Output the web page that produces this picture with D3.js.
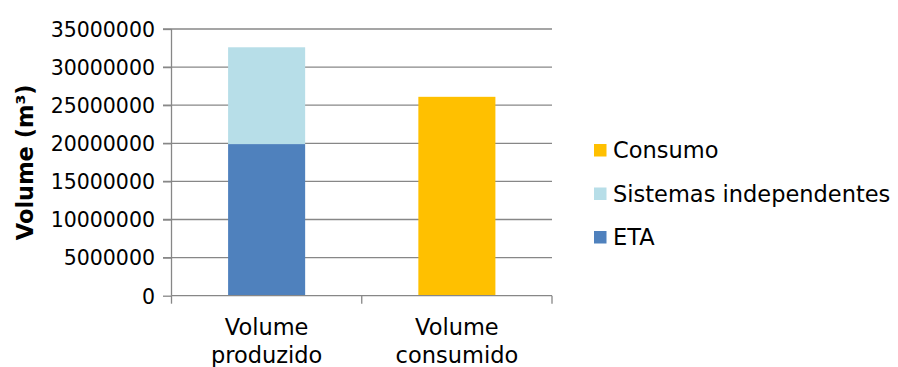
<!DOCTYPE html>
<html><head><meta charset="utf-8">
<script src="https://cdn.jsdelivr.net/npm/d3@7"></script>
<style>
body{margin:0;background:#fff;}
text{font-family:"DejaVu Sans",sans-serif;fill:#000;}
</style></head>
<body><svg id="c" width="898" height="367"></svg>
<script>
const categories = [["Volume","produzido"],["Volume","consumido"]];
const seriesNames = ["ETA","Sistemas independentes","Consumo"];
const etaValues = [19900000, 0];
const sistemasValues = [12700000, 0];
const consumoValues = [0, 26100000];
const yTicks = [0,5000000,10000000,15000000,20000000,25000000,30000000,35000000];
const colors = ["#4F81BD","#B7DEE8","#FFC000"];

const FONT = '"DejaVu Sans",sans-serif';
const svg = d3.select("#c");
const pL = 171.5, pR = 552, pT = 29, pB = 295.7;
const catKeys = categories.map(c=>c.join(" "));
const x = d3.scaleBand().domain(catKeys).range([pL,pR]).paddingInner(0.595).paddingOuter(0.2975);
const y = d3.scaleLinear().domain([0,35000000]).range([pB,pT]);

const rows = catKeys.map((k,i)=>({key:k, "ETA":etaValues[i], "Sistemas independentes":sistemasValues[i], "Consumo":consumoValues[i]}));
const stack = d3.stack().keys(seriesNames)(rows);

// gridlines
svg.append("g").selectAll("line").data(yTicks.filter(t=>t>0)).join("line")
  .attr("x1",163).attr("x2",pR).attr("y1",d=>y(d)).attr("y2",d=>y(d))
  .attr("stroke","#878787").attr("stroke-width",1.3);

// bars
svg.append("g").selectAll("g").data(stack).join("g").attr("fill",(d,i)=>colors[i])
  .selectAll("rect").data(d=>d.map(v=>({v,key:v.data.key}))).join("rect")
  .attr("x",d=>x(d.key)).attr("width",x.bandwidth())
  .attr("y",d=>y(d.v[1])).attr("height",d=>y(d.v[0])-y(d.v[1]));

// y axis
const ya = d3.axisLeft(y).tickValues(yTicks).tickSize(8.5).tickPadding(8).tickFormat(d3.format("d"));
const yg = svg.append("g").attr("transform",`translate(${pL},0)`).call(ya);
yg.select(".domain").attr("stroke","#878787").attr("stroke-width",1.3).attr("d",`M0,${pT}V${pB}`);
yg.selectAll(".tick line").attr("stroke","#878787").attr("stroke-width",1.3);
yg.selectAll(".tick text").attr("font-size",20.5).attr("fill","#000").attr("dy","0.36em")
  .style("font-family",FONT);

// x axis
const xa = d3.axisBottom(x).tickSize(0).tickFormat(()=> "");
const xg = svg.append("g").attr("transform",`translate(0,${pB})`).call(xa);
xg.select(".domain").attr("stroke","#878787").attr("stroke-width",1.3).attr("d",`M${pL},0H${pR}`);
const bounds = [pL, (x(catKeys[0])+x.bandwidth()+x(catKeys[1]))/2, pR];
xg.selectAll(".bt").data(bounds).join("line").attr("class","bt")
  .attr("x1",d=>d).attr("x2",d=>d).attr("y1",0).attr("y2",8).attr("stroke","#878787").attr("stroke-width",1.3);
xg.selectAll(".tick").each(function(d,i){
  const t = d3.select(this).append("text").attr("text-anchor","middle").attr("font-size",22.5).attr("fill","#000")
    .style("font-family",FONT);
  categories[i].forEach((s,j)=>t.append("tspan").attr("x",0).attr("y",39+j*28).text(s));
});

// y title
svg.append("text").attr("transform",`translate(33,${(pT+pB)/2}) rotate(-90)`)
  .attr("text-anchor","middle").attr("font-size",22.5).attr("font-weight","bold").text("Volume (m³)");

// legend
const legendOrder = [2,1,0];
const lg = svg.append("g");
legendOrder.forEach((si,j)=>{
  const cy = 150 + j*43.5;
  lg.append("rect").attr("x",594).attr("y",cy-6).attr("width",12.5).attr("height",12.5).attr("fill",colors[si]);
  lg.append("text").attr("x",613).attr("y",cy).attr("dy","0.36em").attr("font-size",22.5).text(seriesNames[si]);
});
</script></body></html>
